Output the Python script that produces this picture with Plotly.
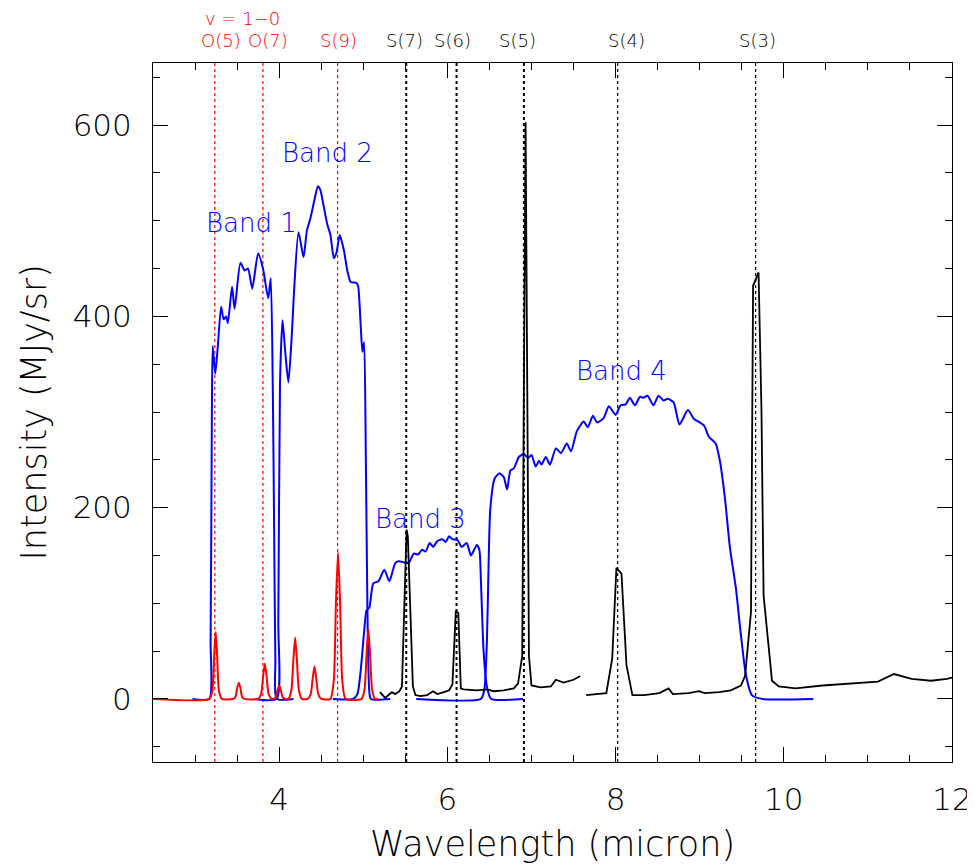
import plotly.graph_objects as go

# ---------------- data ----------------
# H2 v=1-0 emission (red, model lines)
red_x = [2.50, 3.17, 3.205, 3.228, 3.245, 3.262, 3.285, 3.32,
         3.45, 3.48, 3.50, 3.52, 3.54, 3.56, 3.59,
         3.75, 3.785, 3.81, 3.83, 3.85, 3.875, 3.91,
         3.93, 3.96, 3.98, 4.00, 4.02, 4.04, 4.07,
         4.11, 4.145, 4.17, 4.19, 4.21, 4.235, 4.27,
         4.34, 4.375, 4.40, 4.42, 4.44, 4.465, 4.50,
         4.61, 4.65, 4.675, 4.70, 4.725, 4.75, 4.79,
         4.98, 5.015, 5.04, 5.06, 5.08, 5.105, 5.14, 5.18]
red_y = [0, 0, 8, 46, 70, 46, 8, 0,
         0, 2, 11, 17, 11, 2, 0,
         0, 5, 24, 37, 24, 5, 0,
         0, 2, 9, 14, 9, 2, 0,
         0, 9, 42, 64, 42, 9, 0,
         0, 5, 22, 34, 22, 5, 0,
         0, 20, 100, 153, 100, 20, 0,
         0, 10, 48, 73, 48, 10, 0, 0]

# Filter band profiles (blue)
band1_x = [2.97, 3.17, 3.185, 3.20, 3.21, 3.24, 3.27, 3.31, 3.34, 3.37, 3.39, 3.44, 3.47,
           3.54, 3.59, 3.63, 3.68, 3.75, 3.81, 3.87, 3.90, 3.925, 3.94, 3.955, 3.97, 4.17]
band1_y = [0, 0, 60, 300, 369, 340, 368, 410, 397, 400, 393, 431, 408,
           456, 448, 450, 429, 466, 449, 419, 440, 320, 180, 40, 0, 0]

band2_x = [3.71, 3.97, 3.99, 4.01, 4.04, 4.075, 4.11, 4.15, 4.18, 4.23, 4.29, 4.33, 4.37,
           4.42, 4.46, 4.49, 4.53, 4.57, 4.61, 4.65, 4.68, 4.72, 4.77, 4.81, 4.85, 4.92,
           4.94, 4.97, 4.99, 5.01, 5.03, 5.05, 5.07, 5.09, 5.32]
band2_y = [0, 0, 80, 330, 396, 360, 331, 380, 431, 488, 462, 490, 502,
           522, 536, 532, 515, 497, 485, 461, 466, 485, 469, 448, 436, 435,
           431, 390, 363, 373, 257, 90, 10, 0, 0]

band3_x = [4.64, 4.88, 4.93, 4.97, 5.01, 5.04, 5.07, 5.12, 5.18, 5.25, 5.31, 5.38, 5.42,
           5.48, 5.54, 5.60, 5.65, 5.70, 5.74, 5.79, 5.83, 5.88, 5.94, 5.98, 6.02, 6.06,
           6.12, 6.17, 6.23, 6.28, 6.35, 6.38, 6.40, 6.43, 6.47, 6.52, 6.90]
band3_y = [0, 0, 5, 30, 70, 93, 95, 121, 123, 135, 123, 142, 144,
           143, 142, 152, 151, 156, 154, 163, 159, 165, 167, 164, 170, 167,
           166, 159, 163, 150, 161, 156, 121, 51, 13, 0, 0]

band4_x = [5.63, 6.40, 6.44, 6.47, 6.49, 6.51, 6.56, 6.62, 6.67, 6.71, 6.75, 6.79, 6.85,
           6.91, 6.96, 7.00, 7.05, 7.09, 7.12, 7.17, 7.22, 7.29, 7.35, 7.42, 7.47, 7.54,
           7.62, 7.67, 7.73, 7.78, 7.86, 7.92, 8.00, 8.06, 8.12, 8.17, 8.23, 8.29, 8.33,
           8.38, 8.45, 8.51, 8.57, 8.62, 8.69, 8.76, 8.86, 8.93, 9.05, 9.11, 9.19, 9.24,
           9.30, 9.36, 9.43, 9.49, 9.55, 9.62, 9.74, 10.35]
band4_y = [0, 0, 10, 60, 140, 198, 230, 236, 232, 219, 239, 241, 253,
           256, 252, 255, 243, 249, 245, 253, 245, 262, 257, 267, 259, 280,
           290, 284, 296, 289, 294, 306, 297, 307, 308, 315, 307, 316, 315,
           317, 307, 317, 312, 314, 310, 287, 302, 293, 286, 274, 267, 249,
           210, 158, 116, 67, 25, 4, 0, 0]

# Observed spectrum (black), two segments
obs1_x = [5.20, 5.26, 5.34, 5.38, 5.43, 5.46, 5.515, 5.53, 5.59, 5.62, 5.68, 5.76, 5.83,
          5.88, 5.96, 6.02, 6.06, 6.10, 6.13, 6.16, 6.19, 6.35, 6.47, 6.55, 6.67, 6.79,
          6.84, 6.89, 6.93, 6.97, 7.00, 7.11, 7.23, 7.29, 7.38, 7.50, 7.58]
obs1_y = [7, 1, 7, 5, 8, 13, 177, 170, 13, 4, 3, 4, 8,
          5, 7, 9, 15, 91, 90, 11, 10, 9, 10, 8, 9, 11,
          16, 45, 603, 45, 14, 12, 13, 20, 17, 20, 24]
obs2_x = [7.65, 7.89, 7.96, 8.01, 8.07, 8.13, 8.20, 8.34, 8.52, 8.63, 8.68, 8.87, 8.99,
          9.06, 9.23, 9.37, 9.49, 9.54, 9.61, 9.635, 9.70, 9.735, 9.76, 9.86, 9.94, 10.14,
          10.46, 10.87, 11.12, 11.31, 11.44, 11.52, 11.75, 11.94, 12.04]
obs2_y = [4, 6, 42, 137, 131, 35, 4, 4, 6, 11, 5, 6, 8,
          6, 7, 9, 14, 24, 91, 432, 446, 300, 108, 19, 13, 11,
          14, 16, 18, 26, 23, 21, 19, 21, 23]

# Line identifications
red_lines = [3.235, 3.807, 4.695]
black_lines_bold = [5.511, 6.109, 6.910]
black_lines_thin = [8.025, 9.665]
red_labels = ["O(5)", "O(7)", "S(9)"]
red_label_x = [3.31, 3.87, 4.71]
black_labels = ["S(7)", "S(6)", "S(5)", "S(4)", "S(3)"]
black_label_x = [5.49, 6.06, 6.83, 8.13, 9.69]
band_labels = ["Band 1", "Band 2", "Band 3", "Band 4"]
band_label_x = [3.67, 4.58, 5.68, 8.07]
band_label_y = [498, 571, 188, 343]

x_range = [2.5, 12]
y_range = [-66, 665]

FONT = "DejaVu Sans"
LW = 200
BLUE = "#0000ff"
RED = "#ff0000"

fig = go.Figure()

for xs, ys in [(band1_x, band1_y), (band2_x, band2_y), (band3_x, band3_y), (band4_x, band4_y)]:
    fig.add_trace(go.Scatter(x=xs, y=ys, mode="lines",
                             line=dict(color=BLUE, width=2, shape="spline", smoothing=0.6),
                             showlegend=False, hoverinfo="skip"))
fig.add_trace(go.Scatter(x=red_x, y=red_y, mode="lines",
                         line=dict(color=RED, width=2, shape="spline", smoothing=0.6),
                         showlegend=False, hoverinfo="skip"))
for xs, ys in [(obs1_x, obs1_y), (obs2_x, obs2_y)]:
    fig.add_trace(go.Scatter(x=xs, y=ys, mode="lines",
                             line=dict(color="black", width=1.8),
                             showlegend=False, hoverinfo="skip"))

shapes = []
for w in red_lines:
    shapes.append(dict(type="line", xref="x", yref="paper", x0=w, x1=w, y0=0, y1=1,
                       line=dict(color=RED, width=1.2, dash="dot"), layer="below"))
for w in black_lines_bold:
    shapes.append(dict(type="line", xref="x", yref="paper", x0=w, x1=w, y0=0, y1=1,
                       line=dict(color="black", width=2, dash="dot"), layer="below"))
for w in black_lines_thin:
    shapes.append(dict(type="line", xref="x", yref="paper", x0=w, x1=w, y0=0, y1=1,
                       line=dict(color="black", width=1.2, dash="dot"), layer="below"))

annotations = []
for t, xv in zip(red_labels, red_label_x):
    annotations.append(dict(text=t, x=xv, xref="x", y=1, yref="paper", yanchor="middle",
                            yshift=23, showarrow=False,
                            font=dict(family=FONT, size=18, color=RED, weight=LW)))
annotations.append(dict(text="v = 1\u22120", x=3.56, xref="x", y=1, yref="paper", yanchor="middle",
                        yshift=45, showarrow=False,
                        font=dict(family=FONT, size=18, color=RED, weight=LW)))
for t, xv in zip(black_labels, black_label_x):
    annotations.append(dict(text=t, x=xv, xref="x", y=1, yref="paper", yanchor="middle",
                            yshift=23, showarrow=False,
                            font=dict(family=FONT, size=18, color="black", weight=LW)))
for t, xv, yv in zip(band_labels, band_label_x, band_label_y):
    annotations.append(dict(text=t, x=xv, xref="x", y=yv, yref="y", showarrow=False,
                            font=dict(family=FONT, size=26, color=BLUE, weight=LW)))
annotations.append(dict(text="Wavelength (micron)", x=0.5, xref="paper", y=0, yref="paper",
                        yanchor="middle", yshift=-82, showarrow=False,
                        font=dict(family=FONT, size=35, color="black", weight=LW)))
annotations.append(dict(text="Intensity (MJy/sr)", x=0, xref="paper", y=0.5, yref="paper",
                        xanchor="center", xshift=-120, textangle=-90, showarrow=False,
                        font=dict(family=FONT, size=35, color="black", weight=LW)))

# the page body has an 8px margin, so the figure is 8px smaller than the window
fig.update_layout(
    width=967, height=860,
    margin=dict(l=145, r=23, t=55, b=106),
    paper_bgcolor="white", plot_bgcolor="white",
    shapes=shapes, annotations=annotations,
    font=dict(family=FONT, color="black"),
)
fig.update_xaxes(range=x_range, tick0=0, dtick=2, ticks="inside", ticklen=15, tickwidth=1,
                 tickcolor="black", showline=True, linecolor="black", linewidth=1,
                 mirror="allticks", showgrid=False, zeroline=False, automargin=False,
                 tickfont=dict(family=FONT, size=31, color="black", weight=LW),
                 ticklabelstandoff=10,
                 minor=dict(dtick=0.5, ticks="inside", ticklen=7, tickcolor="black", showgrid=False))
fig.update_yaxes(range=y_range, tick0=0, dtick=200, ticks="inside", ticklen=15, tickwidth=1,
                 tickcolor="black", showline=True, linecolor="black", linewidth=1,
                 mirror="allticks", showgrid=False, zeroline=False, automargin=False,
                 tickfont=dict(family=FONT, size=31, color="black", weight=LW),
                 ticklabelstandoff=14,
                 minor=dict(dtick=50, ticks="inside", ticklen=7, tickcolor="black", showgrid=False))

fig.write_html("out.html")
